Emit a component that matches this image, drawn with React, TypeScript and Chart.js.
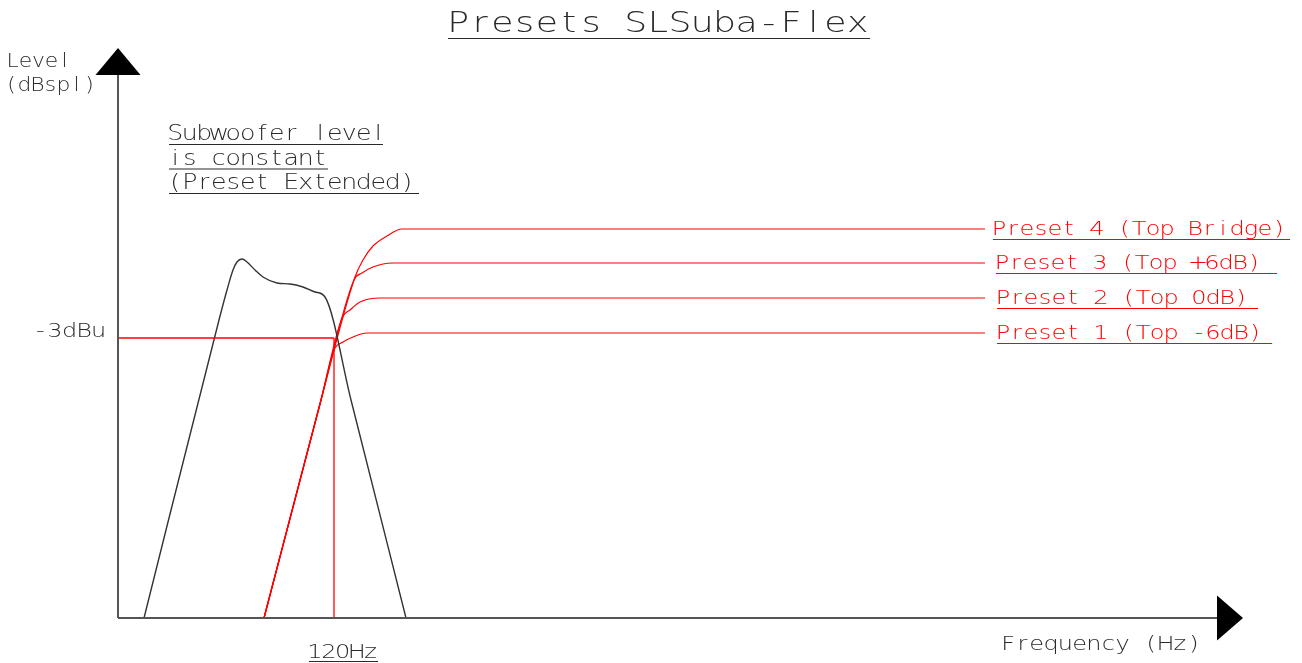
import React, { useEffect, useRef } from "react";
import { Chart, registerables } from "chart.js";

Chart.register(...registerables);

// Schematic units: x = frequency position, y = level position (arbitrary units)
const X_MAX = 1125;
const Y_MAX = 570;
const AXIS_X_END = 1099;
const AXIS_Y_END = 543;

// Subwoofer response (black curve)
const SUB_X = [26, 101, 109, 115, 119, 124, 129, 137, 145, 159, 172, 185, 197, 207, 233, 288];
const SUB_Y = [0, 298, 328, 348, 356, 359, 356, 348, 341, 335, 334, 331, 326, 321, 218, 0];

// Top responses for each preset (red curves)
const P1_X = [146, 203, 216, 225, 235, 249, 867];
const P1_Y = [0, 218, 268, 276, 281, 285, 285];
const P2_X = [146, 203, 224, 232, 242, 262, 867];
const P2_Y = [0, 218, 300, 308, 316, 320, 320];
const P3_X = [146, 203, 236, 244, 255, 274, 867];
const P3_Y = [0, 218, 338, 345, 351, 355, 355];
const P4_X = [146, 203, 237, 245, 255, 269, 284, 867];
const P4_Y = [0, 218, 341, 358, 372, 382, 389, 389];

const PRESET_LABELS = [
  "Preset 1 (Top -6dB)",
  "Preset 2 (Top 0dB)",
  "Preset 3 (Top +6dB)",
  "Preset 4 (Top Bridge)",
];
const PRESET_LEVELS = [285, 320, 355, 389];
const PRESET_END = 867;

// -3dB crossover marker
const XOVER_X = 216;
const XOVER_Y = 280;

const TITLE = "Presets SLSuba-Flex";
const Y_LABEL = ["Level", "(dBspl)"];
const X_LABEL = "Frequency (Hz)";
const NOTE = ["Subwoofer level", "is constant", "(Preset Extended)"];
const XOVER_Y_LABEL = "-3dBu";
const XOVER_X_LABEL = "120Hz";

const FONT = "'DejaVu Sans', sans-serif";
const GRAY = "#555555";
const TEXT = "#2a2a2a";
const RED = "#ff0000";

function pts(xs: number[], ys: number[]) {
  return xs.map((x, i) => ({ x, y: ys[i] }));
}

// draws text on a fixed character grid (CAD style), glyphs centred in cells
function drawMono(
  ctx: CanvasRenderingContext2D,
  text: string,
  x: number,
  baseline: number,
  size: number,
  adv: number,
  sx: number,
  color: string,
  underline?: { dy: number; width: number }
) {
  ctx.save();
  ctx.font = `200 ${size}px ${FONT}`;
  ctx.fillStyle = color;
  ctx.textAlign = "center";
  ctx.textBaseline = "alphabetic";
  for (let i = 0; i < text.length; i++) {
    ctx.save();
    ctx.translate(x + i * adv + adv / 2, baseline);
    ctx.scale(sx, 1);
    ctx.fillText(text[i], 0, 0);
    ctx.restore();
  }
  if (underline) {
    ctx.strokeStyle = color;
    ctx.lineWidth = 1.2;
    ctx.beginPath();
    ctx.moveTo(x + 1, baseline + underline.dy + 0.5);
    ctx.lineTo(x + 1 + underline.width, baseline + underline.dy + 0.5);
    ctx.stroke();
  }
  ctx.restore();
}

const decorPlugin = {
  id: "decor",
  afterDatasetsDraw(chart: any) {
    const ctx: CanvasRenderingContext2D = chart.ctx;
    const xs = chart.scales.x;
    const ys = chart.scales.y;
    const x0 = xs.getPixelForValue(0);
    const y0 = ys.getPixelForValue(0);

    // arrowheads
    ctx.save();
    ctx.fillStyle = "#000";
    const yTip = ys.getPixelForValue(Y_MAX);
    const yBase = ys.getPixelForValue(AXIS_Y_END);
    ctx.beginPath();
    ctx.moveTo(x0, yTip);
    ctx.lineTo(x0 - 22.5, yBase);
    ctx.lineTo(x0 + 22.5, yBase);
    ctx.closePath();
    ctx.fill();
    const xTip = xs.getPixelForValue(X_MAX);
    const xBase = xs.getPixelForValue(AXIS_X_END);
    ctx.beginPath();
    ctx.moveTo(xTip, y0);
    ctx.lineTo(xBase, y0 - 22.5);
    ctx.lineTo(xBase, y0 + 22.5);
    ctx.closePath();
    ctx.fill();
    ctx.restore();

    // title
    drawMono(ctx, TITLE, 447, 32, 29, 22.2, 1.25, TEXT, { dy: 6, width: 422 });

    // axis labels
    drawMono(ctx, Y_LABEL[0], 6, 67, 19, 13, 1.15, TEXT);
    drawMono(ctx, Y_LABEL[1], 5, 91, 19, 13, 1.15, TEXT);
    drawMono(ctx, X_LABEL, 1001, 650, 20, 14.3, 1.2, TEXT);

    // note
    const noteW = [214, 159, 250];
    NOTE.forEach((t, i) => {
      drawMono(ctx, t, 168, 140 + i * 24.5, 21, 14.5, 1.2, TEXT, { dy: 4, width: noteW[i] });
    });

    // crossover labels
    const yx = ys.getPixelForValue(XOVER_Y);
    drawMono(ctx, XOVER_Y_LABEL, 33, yx - 1, 20, 14.6, 1.2, TEXT);
    const xx = xs.getPixelForValue(XOVER_X);
    drawMono(ctx, XOVER_X_LABEL, xx - 26, 658, 20, 13.9, 1.2, TEXT, { dy: 3, width: 69 });

    // preset labels
    const lx = xs.getPixelForValue(PRESET_END);
    const offs = [11, 11, 10, 7];
    const uw = [275, 261, 281, 297];
    PRESET_LABELS.forEach((t, i) => {
      const ly = ys.getPixelForValue(PRESET_LEVELS[i]);
      drawMono(ctx, t, lx + offs[i], ly + 6, 20, 14, 1.2, RED, { dy: 4, width: uw[i] });
    });
  },
};

export default function App() {
  const ref = useRef<HTMLCanvasElement | null>(null);
  useEffect(() => {
    if (!ref.current) return;
    const line = (data: any[], color: string, width: number, smooth: boolean) => ({
      data,
      showLine: true,
      borderColor: color,
      backgroundColor: color,
      borderWidth: width,
      pointRadius: 0,
      pointHoverRadius: 0,
      fill: false,
      clip: false as any,
      cubicInterpolationMode: smooth ? ("monotone" as const) : ("default" as const),
      tension: 0,
    });
    const chart = new Chart(ref.current, {
      type: "scatter",
      data: {
        datasets: [
          line([{ x: 0, y: 0 }, { x: AXIS_X_END, y: 0 }], GRAY, 2, false),
          line([{ x: 0, y: 0 }, { x: 0, y: AXIS_Y_END }], GRAY, 2, false),
          line([{ x: 0, y: XOVER_Y }, { x: XOVER_X, y: XOVER_Y }], RED, 1.3, false),
          line([{ x: XOVER_X, y: 0 }, { x: XOVER_X, y: XOVER_Y }], RED, 1.3, false),
          line(pts(SUB_X, SUB_Y), "#333333", 1.4, true),
          line(pts(P1_X, P1_Y), RED, 1.2, true),
          line(pts(P2_X, P2_Y), RED, 1.2, true),
          line(pts(P3_X, P3_Y), RED, 1.2, true),
          line(pts(P4_X, P4_Y), RED, 1.2, true),
        ],
      },
      options: {
        responsive: false,
        animation: false,
        layout: { padding: { left: 118, right: 59, top: 48, bottom: 45 } },
        scales: {
          x: { type: "linear", min: 0, max: X_MAX, display: false },
          y: { type: "linear", min: 0, max: Y_MAX, display: false },
        },
        plugins: { legend: { display: false }, tooltip: { enabled: false }, title: { display: false } },
        events: [],
      },
      plugins: [decorPlugin],
    });
    return () => chart.destroy();
  }, []);
  return (
    <div style={{ position: "fixed", left: 0, top: 0, width: 1302, height: 663, background: "#fff" }}>
      <canvas ref={ref} width={1302} height={663} style={{ display: "block" }} />
    </div>
  );
}
